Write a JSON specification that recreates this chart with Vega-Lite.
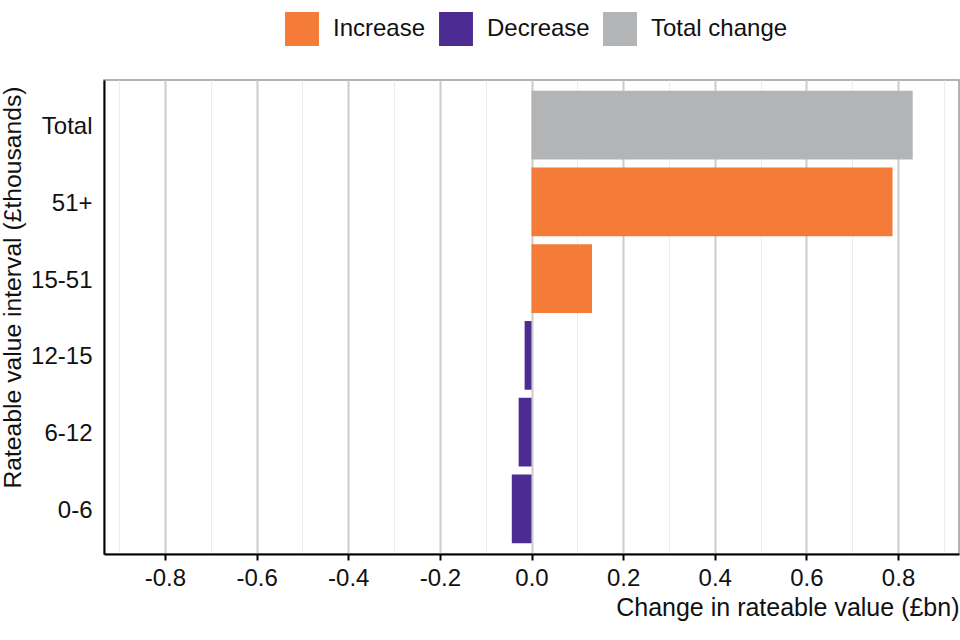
{
  "$schema": "https://vega.github.io/schema/vega-lite/v6.json",
  "width": 855,
  "height": 474,
  "autosize": "none",
  "padding": {"left": 104, "top": 80, "right": 1, "bottom": 86},
  "background": "white",
  "config": {
    "font": "Liberation Sans",
    "view": {"stroke": "#999999", "strokeWidth": 1.5},
    "axis": {"labelFont": "Liberation Sans", "titleFont": "Liberation Sans", "labelColor": "#111", "titleColor": "#111", "titleFontWeight": "normal"}
  },
  "data": {
    "values": [
      {"interval": "Total", "value": 0.832, "type": "Total change"},
      {"interval": "51+", "value": 0.788, "type": "Increase"},
      {"interval": "15-51", "value": 0.132, "type": "Increase"},
      {"interval": "12-15", "value": -0.015, "type": "Decrease"},
      {"interval": "6-12", "value": -0.028, "type": "Decrease"},
      {"interval": "0-6", "value": -0.043, "type": "Decrease"}
    ]
  },
  "mark": {"type": "bar"},
  "encoding": {
    "y": {
      "field": "interval",
      "type": "nominal",
      "sort": ["Total", "51+", "15-51", "12-15", "6-12", "0-6"],
      "scale": {"paddingInner": 0.105, "paddingOuter": 0.14},
      "axis": {
        "title": "Rateable value interval (£thousands)",
        "titleFontSize": 24.7,
        "titleAngle": -90,
        "titleBaseline": "alphabetic",
        "titleX": -84,
        "titleY": 207,
        "titleAlign": "center",
        "labelFontSize": 24,
        "labelPadding": 12,
        "labelBaseline": "middle",
        "labelOffset": 2,
        "ticks": false,
        "domainColor": "#000",
        "domainWidth": 2,
        "grid": false
      }
    },
    "x": {
      "field": "value",
      "type": "quantitative",
      "scale": {"domain": [-0.933, 0.933], "nice": false, "zero": false},
      "axis": {
        "title": "Change in rateable value (£bn)",
        "titleFontSize": 25,
        "titleAnchor": "end",
        "titleAlign": "right",
        "titleBaseline": "alphabetic",
        "titleX": 855,
        "titleY": 61,
        "values": [-0.9, -0.8, -0.7, -0.6, -0.5, -0.4, -0.3, -0.2, -0.1, 0, 0.1, 0.2, 0.3, 0.4, 0.5, 0.6, 0.7, 0.8, 0.9],
        "labelExpr": "abs(round(datum.value*10)) % 2 == 1 ? '' : replace(format(datum.value, '.1f'), '\u2212', '-')",
        "labelFontSize": 24,
        "labelPadding": 6,
        "labelFlush": false,
        "tickSize": 6,
        "tickWidth": 2,
        "tickColor": "#000",
        "tickOpacity": {"condition": {"test": "abs(round(datum.value*10)) % 2 == 1", "value": 0}, "value": 1},
        "domainColor": "#000",
        "domainWidth": 2,
        "grid": true,
        "gridColor": {"condition": {"test": "abs(round(datum.value*10)) % 2 == 1", "value": "#ececec"}, "value": "#cccccc"},
        "gridWidth": {"condition": {"test": "abs(round(datum.value*10)) % 2 == 1", "value": 1}, "value": 2}
      }
    },
    "color": {
      "field": "type",
      "type": "nominal",
      "scale": {"domain": ["Increase", "Decrease", "Total change"], "range": ["#F47B38", "#4C2C92", "#B2B4B6"]},
      "legend": {
        "title": null,
        "orient": "none",
        "direction": "horizontal",
        "legendX": 181,
        "legendY": -68,
        "symbolType": "square",
        "symbolSize": 1150,
        "symbolStrokeWidth": 0,
        "symbolOpacity": 1,
        "labelFontSize": 24,
        "labelFont": "Liberation Sans",
        "labelColor": "#111",
        "labelOffset": 14,
        "columnPadding": 13
      }
    }
  }
}
